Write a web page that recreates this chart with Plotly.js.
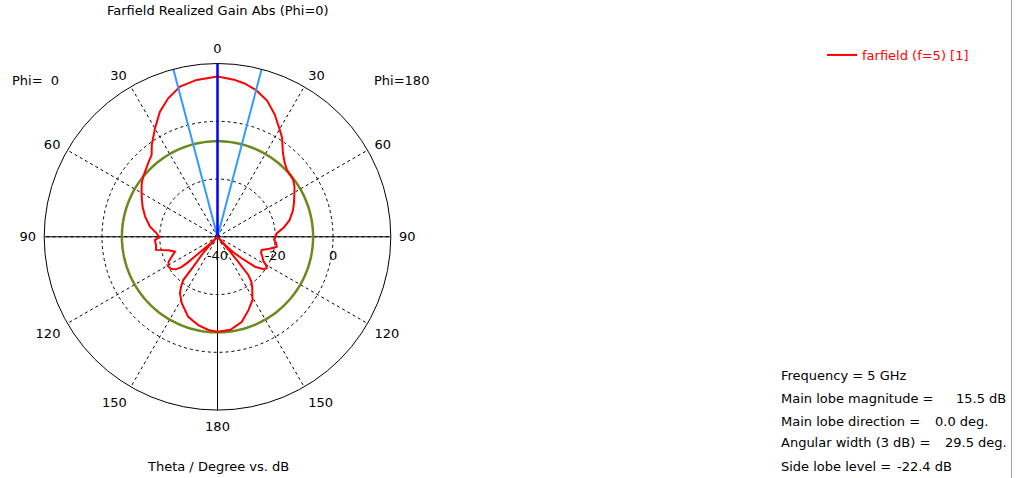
<!DOCTYPE html>
<html>
<head>
<meta charset="utf-8">
<script src="https://cdn.plot.ly/plotly-3.0.1.min.js"></script>
<style>
html,body{margin:0;padding:0;background:#fff;}
#chart{width:1019px;height:478px;}
</style>
</head>
<body>
<div id="chart"></div>
<script>
// ---- data (theta in degrees, gain in dB) ----
// right half of the plot (Phi=180 side), theta measured from the top, clockwise
const rightTheta = [0, 6, 10, 14.75, 20, 25, 30, 33, 38, 42, 46, 50, 53, 57, 61, 66, 71, 77, 82, 86.5, 90.5, 93, 96, 99.5, 103, 106.5, 110, 114, 118, 120, 122.6, 125, 128.6, 131.6, 134.5, 137, 138.5, 139.5, 140.4, 141.1, 143, 146, 151, 157, 164, 172, 180];
const rightGain  = [15.5, 14.7, 13.9, 12.5, 10.2, 6.8, 3.0, 1.0, -3.2, -5.3, -6.6, -7.0, -7.2, -8.2, -9.6, -11.0, -12.4, -14.4, -16.8, -19.4, -20.0, -20.4, -19.6, -19.2, -21.5, -24.0, -24.0, -23.0, -22.0, -20.6, -19.8, -20.5, -23.4, -28.8, -32.5, -36.0, -40.0, -34.0, -29.6, -23.0, -20.5, -18.5, -15.0, -12.5, -9.4, -7.5, -7.1];
// left half of the plot (Phi=0 side), theta measured from the top, counter-clockwise
const leftTheta = [0, 7.6, 14, 19.6, 24.7, 29.9, 35.6, 38.8, 43.3, 47, 51, 54.8, 58, 62.1, 68, 74.5, 81.5, 86.7, 90.5, 93, 98, 102, 105.5, 109.3, 113.5, 117, 121.3, 125, 128, 130, 130.7, 131.3, 133, 135, 138, 141, 141.6, 144, 146.4, 151.7, 159.9, 167.7, 174.4, 180];
const leftGain  = [15.5, 14.8, 13.6, 10.9, 7.7, 3.4, -0.9, -3.6, -5.0, -6.0, -6.9, -7.9, -9.0, -10.3, -12.0, -14.0, -16.4, -18.9, -19.8, -18.3, -18.5, -18.2, -22.5, -24.4, -22.7, -21.0, -20.1, -20.5, -21.7, -23.5, -25.9, -30.8, -36.5, -40.0, -33.0, -26.7, -20.9, -18.5, -16.5, -13.9, -10.5, -8.7, -7.6, -7.1];

const mainLobeDir = 0.0;        // deg
const mainLobeMag = 15.5;       // dB
const angularWidth = 29.5;      // deg (3 dB)
const sideLobeLevel = -22.4;    // dB relative
const radialRange = [-40, 20];
const radialTicks = [-40, -20, 0];
const angTickVals = [0, 30, 60, 90, 120, 150, 180, 210, 240, 270, 300, 330];
const angTickText = ['0', '30', '60', '90', '120', '150', '180', '150', '120', '90', '60', '30'];

const infoLabels = ['Frequency = 5 GHz', 'Main lobe magnitude =', 'Main lobe direction =', 'Angular width (3 dB) =', 'Side lobe level ='];
const infoValues = ['', '15.5 dB', '0.0 deg.', '29.5 deg.', '-22.4 dB'];

// ---- build the full curve (0..360, plotly clockwise from top) ----
const curveTheta = rightTheta.slice();
const curveGain = rightGain.slice();
for (let i = leftTheta.length - 2; i >= 0; i--) {
  curveTheta.push(360 - leftTheta[i]);
  curveGain.push(leftGain[i]);
}

const sllAbs = mainLobeMag + sideLobeLevel;
const circTheta = [], circR = [];
for (let a = 0; a <= 360; a += 2) { circTheta.push(a); circR.push(sllAbs); }

const W = 1019, H = 478;
const cx = 217.5, cy = 236.8, R = 173.3;

const FONT = 'DejaVu Sans';
const FS = 13;

const traces = [
  {type: 'scatterpolar', mode: 'lines', r: [radialRange[1], radialRange[0], radialRange[1]], theta: [90, 90, 270],
   line: {color: '#000', width: 1}, showlegend: false, hoverinfo: 'skip'},
  {type: 'scatterpolar', mode: 'lines', r: [radialRange[1], radialRange[0], radialRange[1]], theta: [0, 0, 180],
   line: {color: '#000', width: 1}, showlegend: false, hoverinfo: 'skip'},
  {type: 'scatterpolar', mode: 'lines', r: circR, theta: circTheta,
   line: {color: '#6b8a1e', width: 2.5}, showlegend: false, hoverinfo: 'skip'},
  {type: 'scatterpolar', mode: 'lines', r: curveGain, theta: curveTheta, name: 'farfield (f=5) [1]',
   line: {color: '#ff0000', width: 2}, showlegend: true},
  {type: 'scatterpolar', mode: 'lines', r: [radialRange[0], radialRange[1]], theta: [mainLobeDir + angularWidth / 2, mainLobeDir + angularWidth / 2],
   line: {color: '#3399ff', width: 2}, showlegend: false, hoverinfo: 'skip'},
  {type: 'scatterpolar', mode: 'lines', r: [radialRange[0], radialRange[1]], theta: [360 + mainLobeDir - angularWidth / 2, 360 + mainLobeDir - angularWidth / 2],
   line: {color: '#3399ff', width: 2}, showlegend: false, hoverinfo: 'skip'},
  {type: 'scatterpolar', mode: 'lines', r: [radialRange[0], radialRange[1]], theta: [mainLobeDir, mainLobeDir],
   line: {color: '#0000ff', width: 2.5}, showlegend: false, hoverinfo: 'skip'}
];

function px(x) { return x / W; }
function py(y) { return 1 - y / H; }

const annotations = [
  {text: 'Farfield Realized Gain Abs (Phi=0)', x: px(218), y: py(11), xanchor: 'center', yanchor: 'middle'},
  {text: 'Phi=  0', x: px(10), y: py(80), xanchor: 'left', yanchor: 'middle'},
  {text: 'Phi=180', x: px(372), y: py(80), xanchor: 'left', yanchor: 'middle'},
  {text: 'Theta / Degree vs. dB', x: px(218), y: py(466), xanchor: 'center', yanchor: 'middle'}
];
const infoY = [375.7, 398.3, 421, 442.3, 466.7];
const valueX = [0, 954, 933, 943, 894.5];
for (let i = 0; i < infoLabels.length; i++) {
  annotations.push({text: infoLabels[i], x: px(779), y: py(infoY[i]), xanchor: 'left', yanchor: 'middle'});
  if (infoValues[i]) annotations.push({text: infoValues[i], x: px(valueX[i]), y: py(infoY[i]), xanchor: 'left', yanchor: 'middle'});
}
annotations.forEach(a => { a.xref = 'paper'; a.yref = 'paper'; a.showarrow = false; a.font = {family: FONT, size: FS, color: '#000'}; });

const layout = {
  width: W, height: H,
  margin: {l: 0, r: 0, t: 0, b: 0},
  paper_bgcolor: '#fff',
  font: {family: FONT, size: FS, color: '#000'},
  showlegend: true,
  legend: {x: px(822), y: py(55), xanchor: 'left', yanchor: 'middle', bgcolor: 'rgba(0,0,0,0)',
           font: {family: FONT, size: FS, color: '#ff0000'}},
  polar: {
    domain: {x: [px(cx - R), px(cx + R)], y: [py(cy + R), py(cy - R)]},
    bgcolor: '#fff',
    angularaxis: {
      rotation: 90, direction: 'clockwise',
      tickmode: 'array', tickvals: angTickVals, ticktext: angTickText,
      showgrid: true, gridcolor: '#000', gridwidth: 1, griddash: '3px,3px',
      showline: true, linecolor: '#000', linewidth: 1,
      ticks: 'outside', ticklen: 5, tickcolor: 'rgba(0,0,0,0)',
      tickfont: {family: FONT, size: FS, color: '#000'}
    },
    radialaxis: {
      range: radialRange, angle: 0, side: 'clockwise',
      tickmode: 'array', tickvals: radialTicks, ticktext: radialTicks.map(String),
      showgrid: true, gridcolor: '#000', gridwidth: 1, griddash: '3px,3px',
      showline: false, ticks: 'outside', ticklen: 7, tickcolor: 'rgba(0,0,0,0)',
      tickangle: 0, tickfont: {family: FONT, size: FS, color: '#000'}
    }
  },
  annotations: annotations,
  shapes: [{type: 'line', xref: 'paper', yref: 'paper', x0: px(1011.5), x1: px(1011.5), y0: 0, y1: 1,
            line: {color: '#a0a0a0', width: 1}}]
};

Plotly.newPlot('chart', traces, layout, {displayModeBar: false, staticPlot: true});
</script>
</body>
</html>
